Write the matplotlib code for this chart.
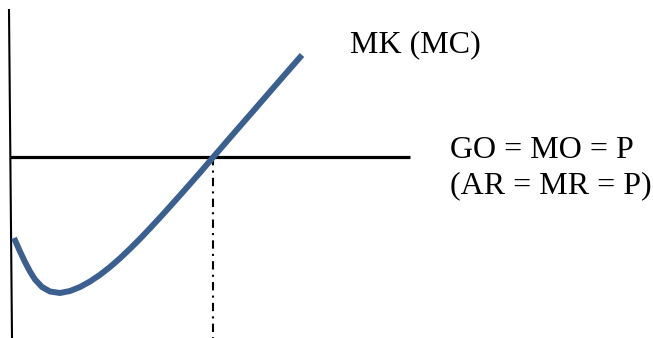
import matplotlib.pyplot as plt

# MC curve (pixel units, y down)
mc_x = [14, 20, 25, 30, 35, 42, 50, 60, 70, 80, 90, 100, 110, 120, 130, 140,
        150, 160, 170, 180, 190, 200, 213, 228, 240, 255, 270, 286, 302]
mc_y = [238, 251.5, 262, 271.5, 279.5, 287, 291.5, 293, 291, 287, 281.5, 274.8, 267, 258.3,
        248.8, 238.8, 228.3, 217.5, 206.5, 195.3, 184, 172.6, 157.4, 140, 126.2, 109,
        91.7, 73.3, 55]

price_y = 157
price_x = [10, 410]
q_star = 213
axis_x = 10

labels = ['MK (MC)', 'GO = MO = P', '(AR = MR = P)']

fig = plt.figure(figsize=(6.53, 3.38), dpi=100)
ax = fig.add_axes([0, 0, 1, 1])
ax.set_xlim(0, 653)
ax.set_ylim(338, 0)
ax.axis('off')

# vertical axis
ax.plot([axis_x - 1, axis_x + 2], [10, 338], color='black', lw=1.5)
# price line
ax.plot(price_x, [price_y, price_y], color='black', lw=2.3, solid_capstyle='butt')
# dash-dot down from the crossing
ax.plot([q_star, q_star], [price_y, 338], color='black', lw=1.5,
        linestyle=(0, (4, 2.5, 1, 2.5)))
# MC curve
ax.plot(mc_x, mc_y, color='#3b6090', lw=4.3, solid_capstyle='butt', solid_joinstyle='round')

font = dict(family='Liberation Serif', fontsize=23, va='baseline', ha='left')
ax.text(350, 52, labels[0], **font)
ax.text(450, 158, labels[1], **font)
ax.text(450, 193, labels[2], **font)

fig.savefig('out.png', dpi=100)
